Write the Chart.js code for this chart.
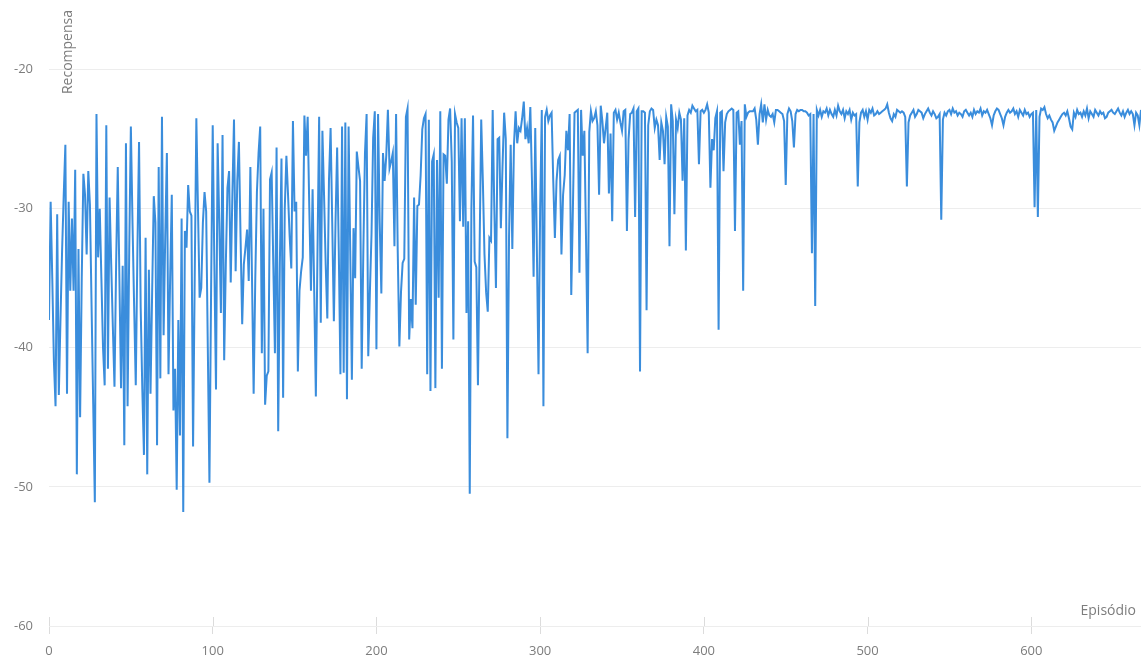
<!DOCTYPE html>
<html>
<head>
<meta charset="utf-8">
<script src="https://cdn.jsdelivr.net/npm/chart.js@4/dist/chart.umd.min.js"></script>
<style>
  html, body { margin: 0; padding: 0; background: #ffffff; }
  #wrap { position: relative; width: 1141px; height: 661px; }
</style>
</head>
<body>
<div id="wrap"><canvas id="chart" width="1141" height="661"></canvas></div>
<script>
// Reward per training episode, in blocks of 100 episodes
const rewards000 = [
  -38, -29.5, -35, -41, -44.2, -30.4, -43.4, -38, -33, -29,
  -25.4, -43.3, -29.5, -35.9, -30.7, -35.9, -27.2, -49.1, -32.9, -45,
  -35, -27.5, -29, -33.3, -27.3, -29.7, -37, -44, -51.1, -23.2,
  -33.5, -30, -35, -40, -42.7, -24, -41.5, -29.2, -34, -38.5,
  -42.8, -34, -27, -35, -42.9, -34.1, -47, -25.3, -44.2, -33,
  -24.1, -31, -37, -42.7, -33, -25.2, -37.1, -43, -47.7, -32.1,
  -49.1, -34.4, -43.3, -36, -29.1, -31, -47, -27, -42.2, -23.4,
  -39.1, -32, -26, -41.9, -35, -29, -44.5, -41.5, -50.2, -38,
  -46.3, -30.7, -51.8, -31.6, -32.8, -28.3, -30.2, -30.5, -47.1, -35,
  -23.5, -30, -36.4, -35.7, -31, -28.8, -30.2, -40, -49.7, -36
];
const rewards100 = [
  -24, -34, -43, -25.3, -31, -37.5, -24.7, -40.9, -34, -28.5,
  -27.3, -35.3, -29, -23.6, -34.5, -28, -25.2, -32, -38.3, -34,
  -32.8, -31.5, -35.2, -27, -35, -43.3, -35, -28.8, -26, -24.1,
  -40.4, -30, -44.1, -42, -41.7, -27.9, -27.4, -34, -40.4, -25.6,
  -46, -34, -26.4, -43.6, -30, -26.2, -29, -32, -34.3, -23.7,
  -30.2, -29.5, -41.7, -35.9, -34.5, -33.5, -23.3, -26.2, -23.4, -30,
  -35.9, -28.6, -36, -43.5, -33, -23.4, -38.2, -24.4, -29, -34,
  -37.9, -28, -24.2, -31, -38.1, -31, -25.6, -33, -41.9, -24.1,
  -41.8, -23.8, -43.7, -24.1, -33, -42.3, -31.4, -35, -25.9, -27,
  -28, -41.5, -33, -26, -23.2, -40.6, -36, -31.8, -24.9, -23
];
const rewards200 = [
  -40.1, -23.2, -31, -36.1, -26, -28, -26.2, -22.9, -27.1, -26.6,
  -26, -32.7, -23.2, -33, -39.9, -36, -33.9, -33.6, -23.4, -22.8,
  -39.4, -36.5, -38.6, -29.2, -36.9, -29.8, -29.7, -27.6, -24.3, -23.5,
  -23.2, -41.9, -23.6, -43.1, -26.6, -26.1, -42.9, -26.5, -36.4, -23,
  -41.5, -26.1, -26.2, -28.2, -23.6, -22.8, -26.6, -39.4, -23.2, -23.8,
  -24.2, -30.9, -23.5, -31.3, -23.5, -37.5, -30.9, -50.5, -30, -23.3,
  -33.8, -34.2, -42.7, -33, -23.6, -28, -33.3, -36, -37.4, -32.1,
  -32.3, -22.9, -30, -35.7, -25, -24.9, -31.4, -27, -23.1, -25,
  -46.5, -32, -25.4, -32.9, -25.4, -23, -25.3, -24.2, -24.4, -23.5,
  -22.3, -25, -24.2, -25.3, -22.7, -28, -34.9, -24.2, -33, -41.9
];
const rewards300 = [
  -30, -22.9, -44.2, -23.4, -22.9, -23.7, -23.3, -23.1, -28, -32.1,
  -28, -26.5, -26.2, -33.3, -29, -27.6, -24.4, -25.8, -23.2, -36.2,
  -30, -23.1, -23, -22.9, -34.6, -22.9, -26.2, -24.4, -32, -40.4,
  -24.5, -23, -23.7, -23.5, -23, -24, -29, -22.6, -23.7, -25.3,
  -24.2, -23.1, -28.9, -24.6, -30.9, -23.1, -22.9, -23.6, -23.1, -23.8,
  -24.4, -23, -22.9, -31.6, -25, -23.2, -23.1, -22.8, -30.6, -23,
  -22.8, -41.7, -23, -23, -23.1, -37.3, -24, -23, -22.8, -22.9,
  -24.2, -23.6, -24, -26.5, -23.8, -24.4, -26.8, -23.4, -24.1, -32.7,
  -22.5, -23.7, -30.4, -23.6, -24.2, -23.1, -23.6, -28, -23.5, -33,
  -23.3, -22.9, -23.1, -22.6, -22.8, -23, -22.9, -26.8, -23, -22.9
];
const rewards400 = [
  -23.1, -22.9, -22.5, -23.1, -28.5, -25, -25.8, -23.5, -23, -38.7,
  -23.1, -23, -27.3, -23.8, -23.2, -23, -22.9, -22.8, -22.9, -31.6,
  -23.1, -23, -25.4, -23.7, -35.9, -22.5, -23.4, -23.1, -23, -23,
  -23, -22.8, -23.6, -25.4, -23.2, -22.5, -23.8, -22.5, -23.6, -22.9,
  -23.3, -23.4, -23.2, -23.8, -22.9, -22.9, -23, -23.1, -23.2, -23.7,
  -28.3, -23.2, -22.8, -23, -23.7, -25.6, -23.2, -22.9, -23, -22.9,
  -22.9, -23, -23, -23.1, -23.3, -23.2, -33.2, -23.2, -37, -22.9,
  -23.3, -22.9, -23.4, -23, -23.1, -22.8, -23.3, -22.9, -23.2, -23.4,
  -22.9, -23.3, -22.6, -23, -23.2, -22.9, -23.5, -23, -23.2, -22.9,
  -23.6, -23.1, -23.3, -23.2, -28.4, -23.8, -23.1, -22.9, -23.4, -23
];
const rewards500 = [
  -23.6, -22.9, -23.1, -22.8, -23.3, -23.2, -23, -23.2, -23.1, -23,
  -22.9, -22.8, -22.5, -23.1, -23.5, -23.7, -23.2, -23.4, -22.9, -23,
  -23.1, -23, -23.1, -23.4, -28.4, -23.8, -23.3, -23.1, -22.9, -23.4,
  -23.2, -22.9, -23, -23.1, -23.5, -23.2, -23, -22.8, -23.1, -23.3,
  -23, -23.2, -23.5, -23.4, -23.2, -30.8, -23.6, -23.1, -23.3, -23,
  -22.9, -23.2, -22.8, -23.1, -23, -23.3, -23.1, -23.2, -23.4, -23,
  -22.9, -23.1, -23.3, -23.1, -23.4, -22.9, -23.2, -23, -23.1, -22.8,
  -23.3, -23, -23.1, -22.9, -23.2, -23.5, -24, -23.3, -23, -22.8,
  -22.9, -23.2, -23.5, -24, -23.4, -23.1, -22.9, -23.1, -23, -22.8,
  -23.2, -23, -23.4, -22.9, -23.1, -23.3, -22.9, -23.2, -23.1, -23.4
];
const rewards600 = [
  -23.2, -23.1, -29.9, -22.9, -30.6, -23.4, -22.8, -22.9, -22.7, -23.2,
  -23.5, -23.3, -23.6, -23.8, -24.4, -24.1, -23.8, -23.6, -23.4, -23.2,
  -23.1, -23.3, -23, -23.5, -24.1, -24.3, -23.1, -23.4, -22.9, -23.2,
  -23.1, -23.4, -23, -23.3, -22.8, -23.5, -23, -23.2, -23.4, -22.9,
  -23.1, -23.3, -23, -23.2, -23.1, -23.5, -23.4, -23.1, -23, -22.9,
  -23.1, -23.2, -23, -22.8, -23.1, -23.3, -23, -23.4, -23.1, -22.9,
  -23.2, -23, -23.2, -24, -23.1, -23.3, -24, -22.9
];

const rewards = [].concat(rewards000, rewards100, rewards200, rewards300,
                          rewards400, rewards500, rewards600);
const episodes = rewards.map((_, i) => i);

const yTickValues = [-60, -50, -40, -30, -20];
const xTickStep = 100;
const xTitle = 'Episódio';
const yTitle = 'Recompensa';

const textColor = '#7d7d7d';
const gridColor = '#ededed';
const lineColor = '#3a8ddc';
const fontFamily = '"Open Sans", "Noto Sans", sans-serif';

// Small tick marks rising above the x axis, plus both axis titles
const axisDecor = {
  id: 'axisDecor',
  afterDraw(chart) {
    const { ctx, chartArea, scales } = chart;
    const x = scales.x;
    ctx.save();
    ctx.strokeStyle = '#dcdcdc';
    ctx.lineWidth = 1;
    x.ticks.forEach(t => {
      const px = Math.round(x.getPixelForValue(t.value)) + 0.5;
      ctx.beginPath();
      ctx.moveTo(px, chartArea.bottom - 9);
      ctx.lineTo(px, chartArea.bottom);
      ctx.stroke();
    });
    ctx.fillStyle = textColor;
    ctx.font = '14px ' + fontFamily;
    ctx.textAlign = 'right';
    ctx.textBaseline = 'middle';
    ctx.fillText(xTitle, chartArea.right - 5, chartArea.bottom - 15);
    ctx.translate(chartArea.left + 19, chartArea.top + 10);
    ctx.rotate(-Math.PI / 2);
    ctx.textAlign = 'right';
    ctx.fillText(yTitle, 0, 0);
    ctx.restore();
  }
};

new Chart(document.getElementById('chart'), {
  type: 'line',
  data: {
    labels: episodes,
    datasets: [{
      label: yTitle,
      data: rewards,
      borderColor: lineColor,
      borderWidth: 2,
      pointRadius: 0,
      tension: 0,
      fill: false
    }]
  },
  options: {
    responsive: false,
    animation: false,
    layout: { padding: 0 },
    plugins: { legend: { display: false }, tooltip: { enabled: false } },
    scales: {
      x: {
        type: 'linear',
        min: 0,
        max: episodes.length - 1,
        border: { display: false },
        grid: { drawOnChartArea: false, color: '#dcdcdc', tickLength: 8 },
        ticks: {
          stepSize: xTickStep,
          includeBounds: false,
          maxRotation: 0,
          color: textColor,
          padding: 9,
          font: { family: fontFamily, size: 13 }
        },
        afterFit(s) { s.height = 35; s.paddingLeft = 0; s.paddingRight = 0; }
      },
      y: {
        min: -60,
        max: -15,
        border: { display: false },
        grid: { color: gridColor, drawTicks: false },
        afterBuildTicks(s) { s.ticks = yTickValues.map(v => ({ value: v })); },
        ticks: {
          color: textColor,
          padding: 16,
          font: { family: fontFamily, size: 13 }
        },
        afterFit(s) { s.width = 49; s.paddingTop = 0; s.paddingBottom = 0; }
      }
    }
  },
  plugins: [axisDecor]
});
</script>
</body>
</html>
